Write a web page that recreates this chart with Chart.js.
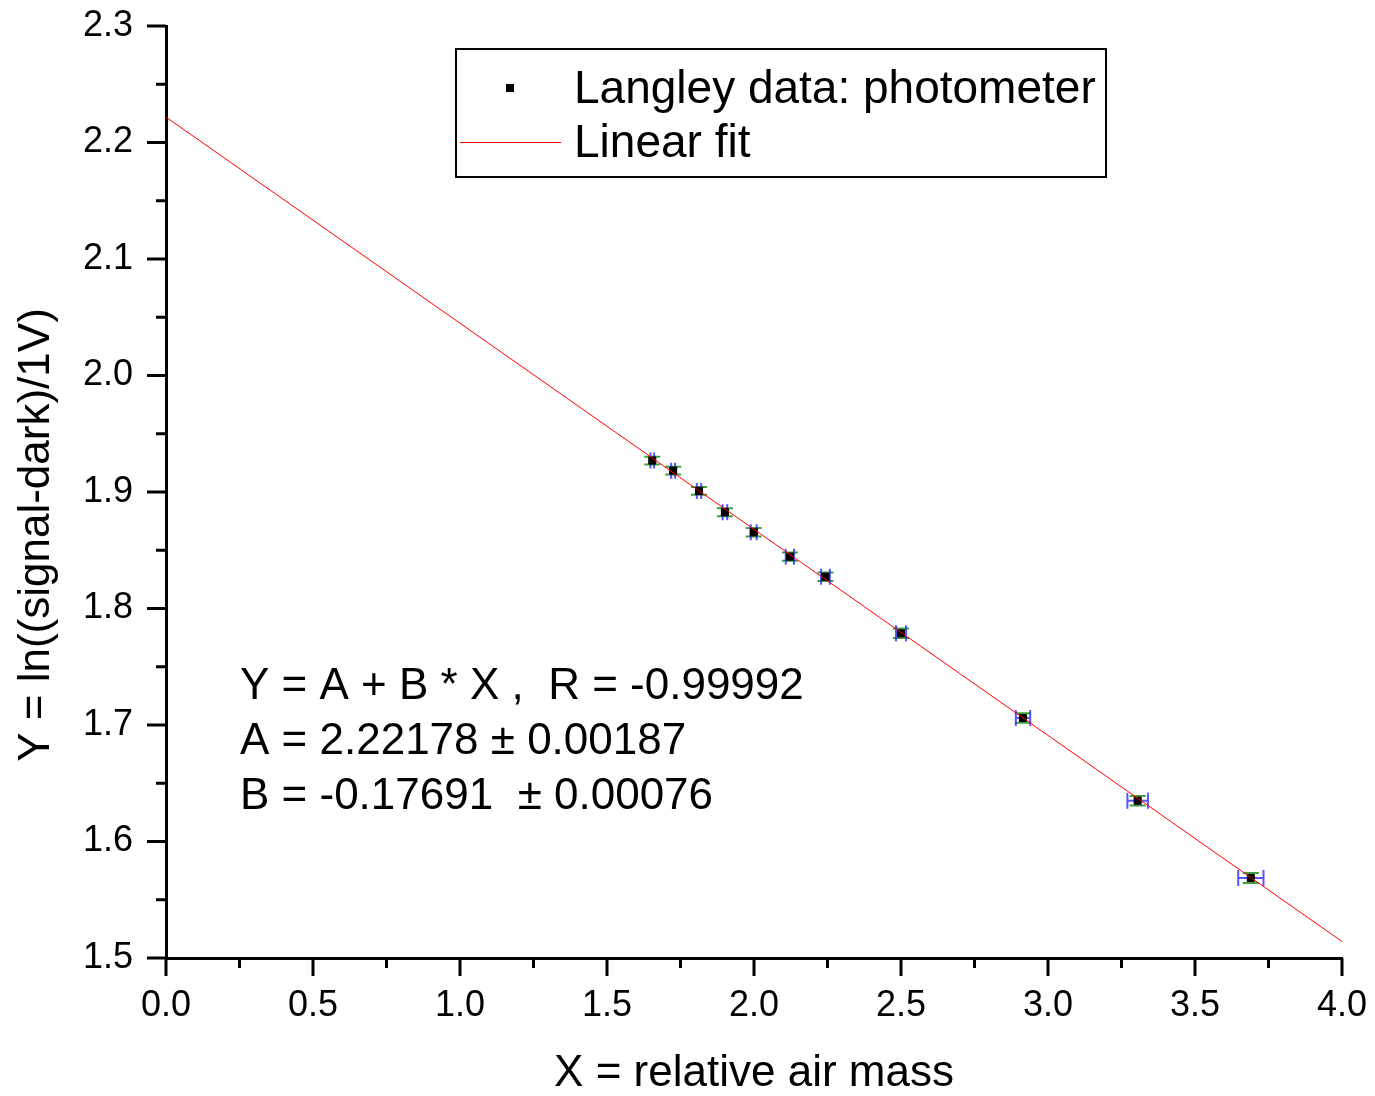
<!DOCTYPE html>
<html>
<head>
<meta charset="utf-8">
<script src="https://cdn.jsdelivr.net/npm/chart.js@4.4.0/dist/chart.umd.min.js"></script>
<style>
  html, body { margin: 0; padding: 0; background: #fff; }
  #langley { display: block; }
</style>
</head>
<body>
<canvas id="langley" width="1375" height="1096"></canvas>
<script>
// Langley data
const airMass     = [1.654, 1.725, 1.813, 1.901, 1.999, 2.122, 2.243, 2.500, 2.915, 3.305, 3.690];
const lnSignal    = [1.9270, 1.9183, 1.9009, 1.8826, 1.8654, 1.8445, 1.8273, 1.7787, 1.7060, 1.6350, 1.5687];
const airMassErr  = [0.0062, 0.0068, 0.0074, 0.0080, 0.0100, 0.0140, 0.0150, 0.0170, 0.0245, 0.0350, 0.0430];
const lnSignalErr = [0.0033, 0.0033, 0.0033, 0.0034, 0.0036, 0.0036, 0.0036, 0.0041, 0.0040, 0.0040, 0.0043];

// linear fit end points
const fitX = [0.0, 4.0];
const fitY = [2.22178, 1.51414];

// axis ticks
const xTickValues = [0.0, 0.5, 1.0, 1.5, 2.0, 2.5, 3.0, 3.5, 4.0];
const xTickLabels = ['0.0', '0.5', '1.0', '1.5', '2.0', '2.5', '3.0', '3.5', '4.0'];
const yTickValues = [1.5, 1.6, 1.7, 1.8, 1.9, 2.0, 2.1, 2.2, 2.3];
const yTickLabels = ['1.5', '1.6', '1.7', '1.8', '1.9', '2.0', '2.1', '2.2', '2.3'];

const fitText = [
    'Y = A + B * X ,  R = -0.99992',
    'A = 2.22178 \u00b1 0.00187',
    'B = -0.17691  \u00b1 0.00076'
];

const FONT = '"Liberation Sans", Arial, sans-serif';
Chart.defaults.font.family = FONT;
Chart.defaults.color = '#000';

function labelFor(values, labels, v) {
    const i = values.findIndex(t => Math.abs(t - v) < 1e-6);
    return i >= 0 ? labels[i] : '';
}

// Error bars: green for Y, blue for X
const errorBars = {
    id: 'errorBars',
    beforeDatasetsDraw(chart) {
        const { ctx, scales: { x, y } } = chart;
        const cap = 8;
        ctx.save();
        ctx.lineWidth = 2;
        airMass.forEach((m, i) => {
            const px = x.getPixelForValue(m);
            const py = y.getPixelForValue(lnSignal[i]);

            const y0 = y.getPixelForValue(lnSignal[i] - lnSignalErr[i]);
            const y1 = y.getPixelForValue(lnSignal[i] + lnSignalErr[i]);
            ctx.strokeStyle = 'rgba(0,128,0,0.75)';
            ctx.beginPath();
            ctx.moveTo(px, y0); ctx.lineTo(px, y1);
            ctx.moveTo(px - cap, y0); ctx.lineTo(px + cap, y0);
            ctx.moveTo(px - cap, y1); ctx.lineTo(px + cap, y1);
            ctx.stroke();

            const x0 = x.getPixelForValue(m - airMassErr[i]);
            const x1 = x.getPixelForValue(m + airMassErr[i]);
            ctx.strokeStyle = 'rgba(30,30,255,0.75)';
            ctx.beginPath();
            ctx.moveTo(x0, py); ctx.lineTo(x1, py);
            ctx.moveTo(x0, py - cap); ctx.lineTo(x0, py + cap);
            ctx.moveTo(x1, py - cap); ctx.lineTo(x1, py + cap);
            ctx.stroke();
        });
        ctx.restore();
    }
};

// Outward major / minor tick marks
const tickMarks = {
    id: 'tickMarks',
    afterDraw(chart) {
        const { ctx, scales: { x, y } } = chart;
        ctx.save();
        ctx.strokeStyle = '#000';
        ctx.lineWidth = 3;
        ctx.beginPath();
        x.ticks.forEach(t => {
            const px = x.getPixelForValue(t.value);
            const len = labelFor(xTickValues, xTickLabels, t.value) ? 18 : 10;
            ctx.moveTo(px, x.top); ctx.lineTo(px, x.top + len);
        });
        y.ticks.forEach(t => {
            const py = y.getPixelForValue(t.value);
            const len = labelFor(yTickValues, yTickLabels, t.value) ? 19 : 10;
            ctx.moveTo(y.right, py); ctx.lineTo(y.right - len, py);
        });
        ctx.stroke();
        ctx.restore();
    }
};

// Legend box, fit results and y title
const annotations = {
    id: 'annotations',
    afterDraw(chart) {
        const { ctx, data } = chart;
        ctx.save();

        ctx.strokeStyle = '#000';
        ctx.lineWidth = 2;
        ctx.strokeRect(456, 49, 650, 128);

        ctx.fillStyle = '#000';
        ctx.fillRect(506, 84, 8, 8);
        ctx.strokeStyle = '#ff0000';
        ctx.lineWidth = 1;
        ctx.beginPath();
        ctx.moveTo(460, 142.5); ctx.lineTo(561, 142.5);
        ctx.stroke();

        ctx.font = '46px ' + FONT;
        ctx.textBaseline = 'alphabetic';
        ctx.textAlign = 'left';
        ctx.fillText(data.datasets[1].label, 574, 103);
        ctx.fillText(data.datasets[0].label, 574, 157);

        ctx.font = '44px ' + FONT;
        fitText.forEach((line, i) => ctx.fillText(line, 240, 699 + i * 55));

        ctx.translate(37, 535);
        ctx.rotate(-Math.PI / 2);
        ctx.textAlign = 'center';
        ctx.textBaseline = 'middle';
        ctx.fillText('Y = ln((signal-dark)/1V)', 0, 0);
        ctx.restore();
    }
};

new Chart(document.getElementById('langley'), {
    type: 'scatter',
    data: {
        datasets: [{
            type: 'line',
            label: 'Linear fit',
            data: fitX.map((v, i) => ({ x: v, y: fitY[i] })),
            borderColor: '#ff0000',
            borderWidth: 1,
            pointRadius: 0,
            fill: false,
            order: 0
        }, {
            label: 'Langley data: photometer',
            data: airMass.map((v, i) => ({ x: v, y: lnSignal[i] })),
            pointStyle: 'rect',
            pointRadius: 5,
            backgroundColor: '#000',
            borderColor: '#000',
            borderWidth: 1,
            order: 1
        }]
    },
    options: {
        responsive: false,
        animation: false,
        layout: { padding: { left: 0, top: 26, right: 33, bottom: 0 } },
        plugins: {
            legend: { display: false },
            tooltip: { enabled: false }
        },
        scales: {
            x: {
                type: 'linear',
                min: 0,
                max: 4,
                afterFit(scale) {
                    scale.height = 138;
                    scale.paddingLeft = 0;
                    scale.paddingRight = 0;
                },
                grid: { display: false, drawTicks: false },
                border: { display: true, color: '#000', width: 3 },
                ticks: {
                    stepSize: 0.25,
                    autoSkip: false,
                    maxRotation: 0,
                    padding: 26,
                    font: { size: 36 },
                    callback: v => labelFor(xTickValues, xTickLabels, v)
                },
                title: {
                    display: true,
                    text: 'X = relative air mass',
                    font: { size: 44, lineHeight: 1 },
                    padding: 0
                }
            },
            y: {
                type: 'linear',
                min: 1.5,
                max: 2.3,
                afterFit(scale) {
                    scale.width = 166;
                    scale.paddingTop = 0;
                    scale.paddingBottom = 0;
                },
                grid: { display: false, drawTicks: false },
                border: { display: true, color: '#000', width: 3 },
                ticks: {
                    stepSize: 0.05,
                    autoSkip: false,
                    padding: 33,
                    font: { size: 36 },
                    callback: v => labelFor(yTickValues, yTickLabels, v)
                }
            }
        }
    },
    plugins: [errorBars, tickMarks, annotations]
});
</script>
</body>
</html>
